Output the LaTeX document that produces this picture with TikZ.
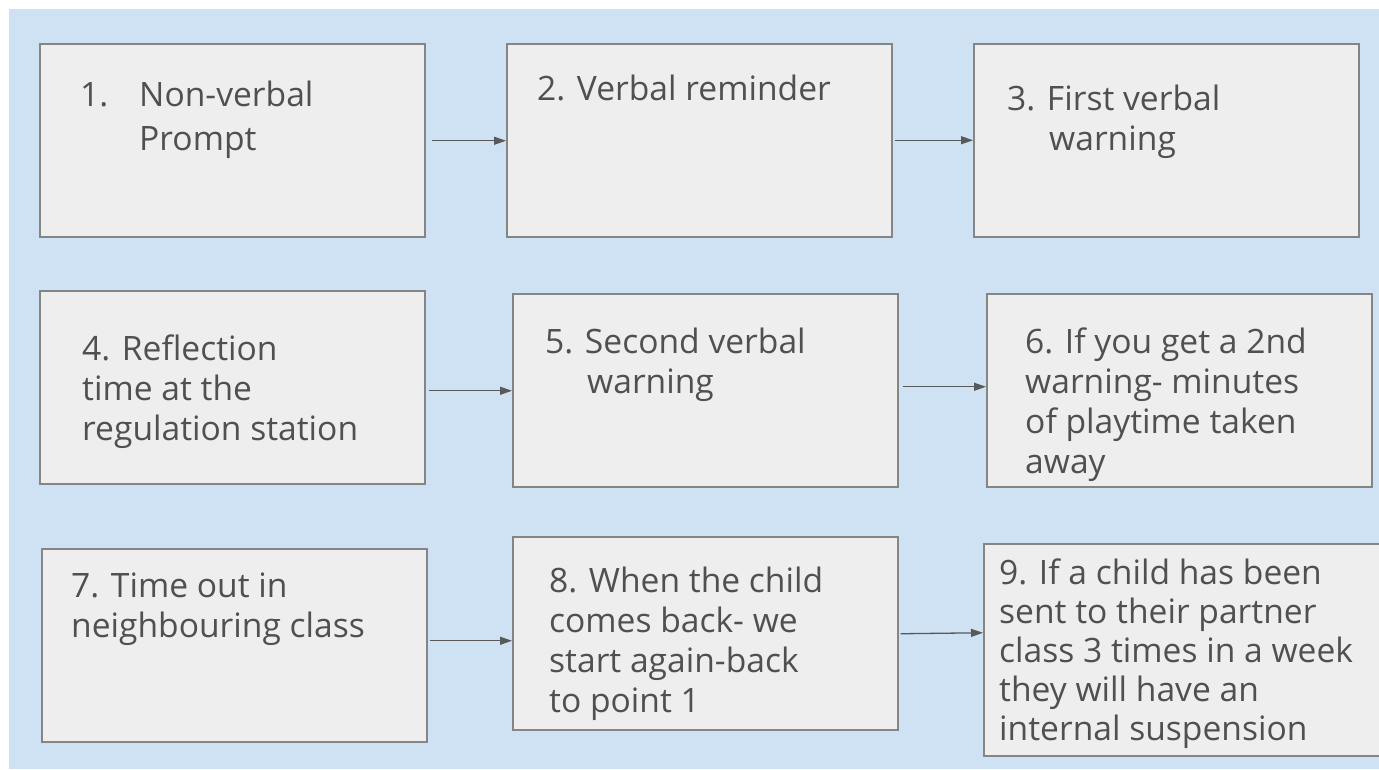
\documentclass[tikz,border=0pt]{standalone}
\usepackage{fontspec}
\setmainfont{Open Sans}
\usetikzlibrary{arrows.meta,calc}
\definecolor{bgblue}{HTML}{CFE2F3}
\definecolor{boxfill}{HTML}{EEEEEE}
\definecolor{boxline}{HTML}{858585}
\definecolor{txt}{HTML}{505050}
\definecolor{arr}{HTML}{595959}
\newcommand{\firstline}{\rule{0pt}{30pt}}
\begin{document}
\begin{tikzpicture}[x=1pt,y=-1pt,
  stepbox/.style={draw=boxline,fill=boxfill,line width=1.5pt,minimum width=385pt,minimum height=193pt,inner sep=0pt,anchor=north west},
  steptext/.style={anchor=north west,inner sep=0pt,align=left,text=txt,font=\fontsize{33.6}{40}\selectfont},
  link/.style={draw=arr,line width=1.3pt,-{Triangle[length=12pt,width=8pt]}}]
\clip (0,0) rectangle (1379,769);
\fill[white] (0,0) rectangle (1379,769);
\fill[bgblue] (9,9) rectangle (1379,769);

\node[stepbox] (b1) at (39,43) {};
\node[stepbox] (b2) at (506,43) {};
\node[stepbox] (b3) at (973,43) {};
\node[stepbox] (b4) at (39,290) {};
\node[stepbox] (b5) at (512,293) {};
\node[stepbox] (b6) at (986,293) {};
\node[stepbox] (b7) at (41,548) {};
\node[stepbox] (b8) at (512,536) {};
\node[stepbox,minimum width=420pt,minimum height=212pt] (b9) at (983,543) {};

% y = first baseline - 30
\node[steptext] (t1) at (80,76) {\firstline\makebox[59pt][l]{1.}Non-verbal\\[4pt]\hspace*{59pt}Prompt};
\node[steptext] (t2) at (537,70) {\firstline 2. Verbal reminder};
\node[steptext] (t3) at (1007,80) {\firstline 3. First verbal\\\hspace*{42pt}warning};
\node[steptext] (t4) at (82,330) {\firstline 4. Reflection\\time at the\\regulation station};
\node[steptext] (t5) at (545,323) {\firstline 5. Second verbal\\\hspace*{42pt}warning};
\node[steptext] (t6) at (1025,323) {\firstline 6. If you get a 2nd\\warning- minutes\\of playtime taken\\away};
\node[steptext] (t7) at (71,567) {\firstline 7. Time out in\\neighbouring class};
\node[steptext] (t8) at (549,562) {\firstline 8. When the child\\comes back- we\\start again-back\\to point 1};
\node[steptext] (t9) at (999,554) {\firstline 9. If a child has been\\[-1pt]sent to their partner\\[-1pt]class 3 times in a week\\[-1pt]they will have an\\[-1pt]internal suspension};

\draw[link] ($(b1.east)+(6,0.5)$) -- ($(b2.west)+(0,0.5)$);
\draw[link] ($(b2.east)+(2,0)$) -- (b3.west);
\draw[link] ($(b4.east)+(3,3.5)$) -- ($(b5.west)+(0,0.5)$);
\draw[link] ($(b5.east)+(4,-3.5)$) -- ($(b6.west)+(0,-3.5)$);
\draw[link] ($(b7.east)+(2,-4.5)$) -- ($(b8.west)+(0,7.5)$);
\draw[link] ($(b8.east)+(2,0.5)$) -- ($(b9.west)+(0,-17)$);
\end{tikzpicture}
\end{document}
